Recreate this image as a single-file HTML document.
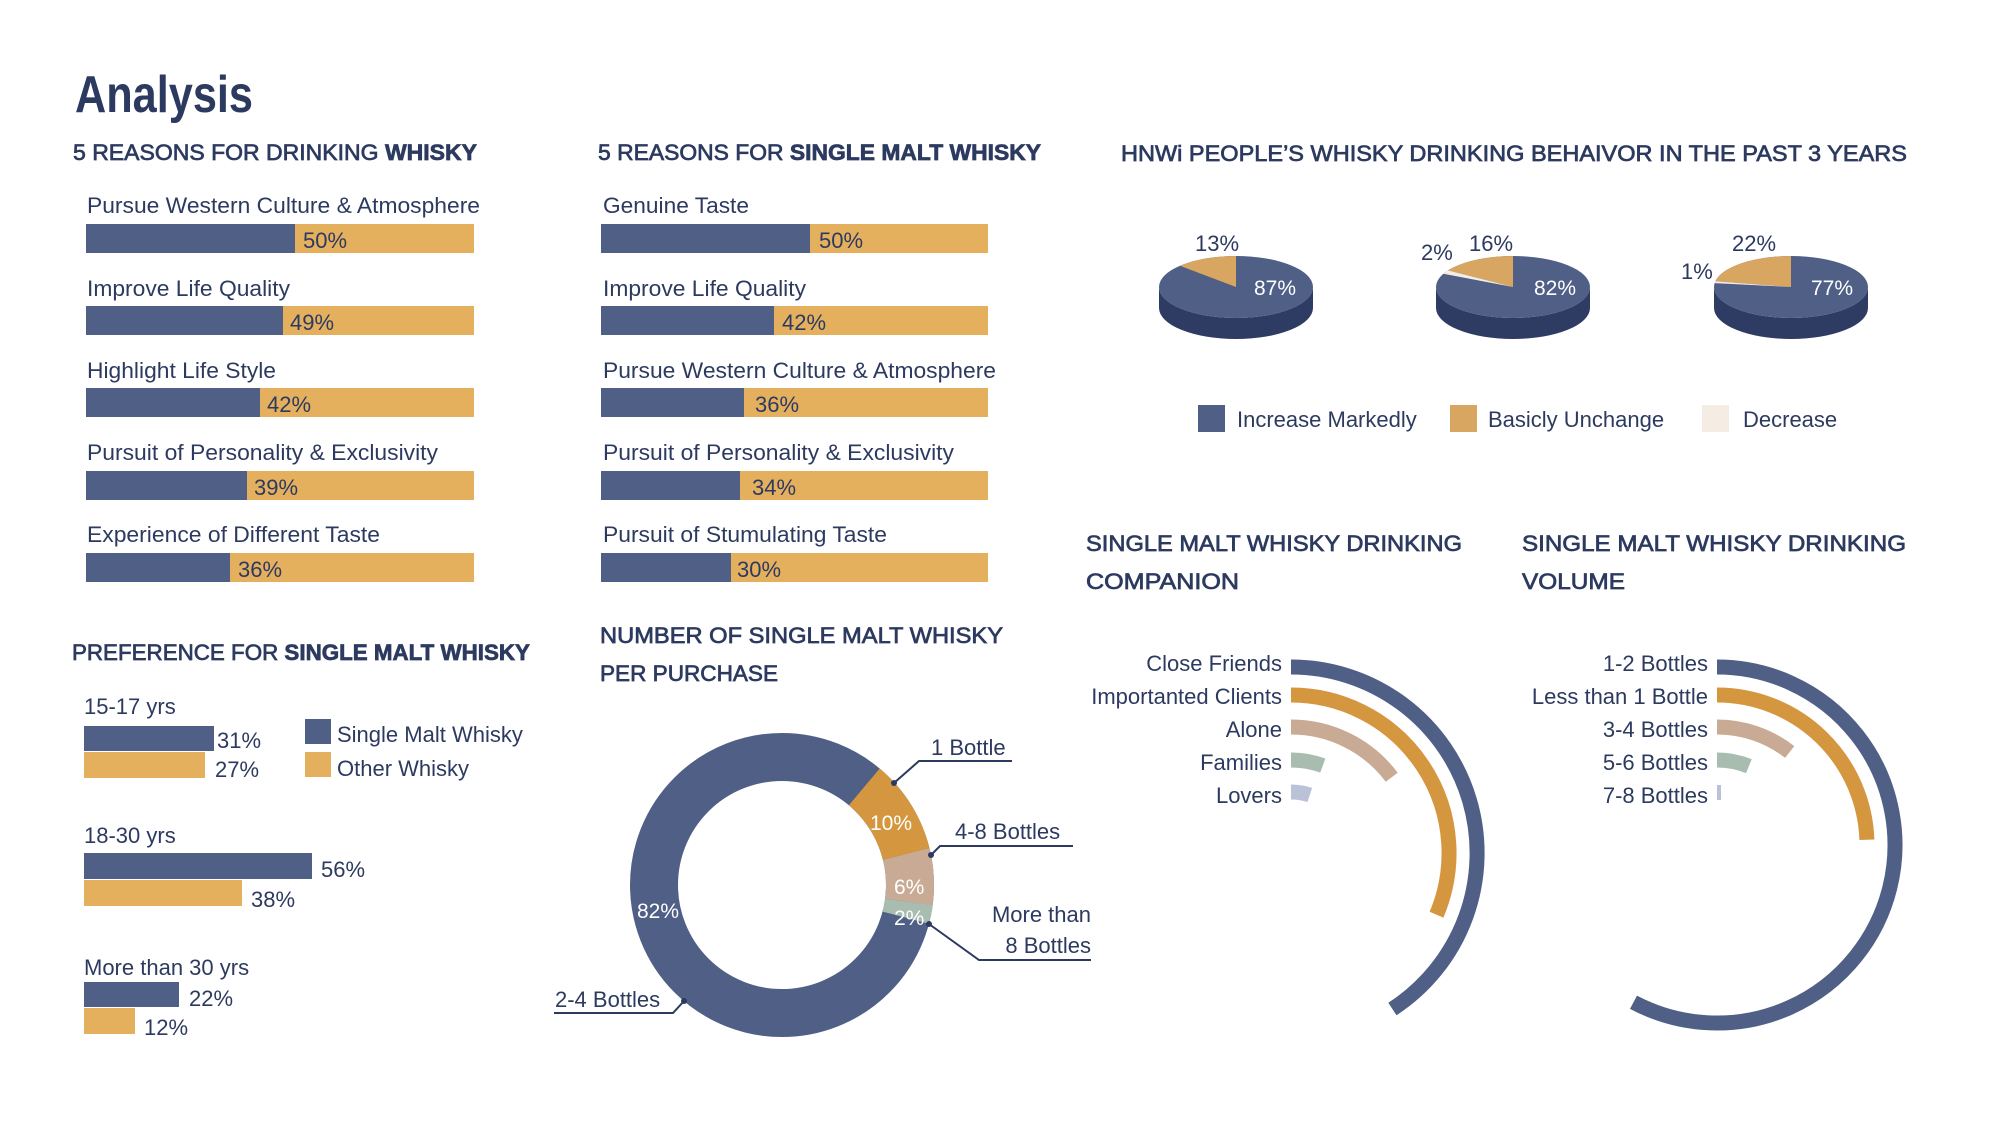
<!DOCTYPE html>
<html><head><meta charset="utf-8"><style>
html,body{margin:0;padding:0;background:#fff;}
svg{display:block;font-family:"Liberation Sans",sans-serif;}
.t{fill:#2d3a60;font-size:22px;}
.h{fill:#2d3a60;font-size:22px;stroke:#2d3a60;stroke-width:0.7px;}
.w{fill:#fff;font-size:21px;}
</style></head><body>
<svg width="2000" height="1125" viewBox="0 0 2000 1125" xmlns="http://www.w3.org/2000/svg">
<rect width="2000" height="1125" fill="#fff"/>
<text x="75" y="112" font-size="52" font-weight="bold" fill="#2d3a60" textLength="178" lengthAdjust="spacingAndGlyphs">Analysis</text>

<!-- headings -->
<text class="h" x="73" y="160" textLength="404" lengthAdjust="spacingAndGlyphs">5 REASONS FOR DRINKING <tspan font-weight="bold">WHISKY</tspan></text>
<text class="h" x="598" y="160" textLength="443" lengthAdjust="spacingAndGlyphs">5 REASONS FOR <tspan font-weight="bold">SINGLE MALT WHISKY</tspan></text>
<text class="h" x="1121" y="161" textLength="786" lengthAdjust="spacingAndGlyphs">HNWi PEOPLE’S WHISKY DRINKING BEHAIVOR IN THE PAST 3 YEARS</text>

<!-- chart 1 -->
<g>
<text class="t" x="87" y="213" textLength="393" lengthAdjust="spacingAndGlyphs">Pursue Western Culture &amp; Atmosphere</text>
<rect x="86" y="224" width="388" height="29" fill="#e5b05e"/><rect x="86" y="224" width="209" height="29" fill="#4f5f86"/>
<text class="t" x="303" y="248">50%</text>
<text class="t" x="87" y="296" textLength="203" lengthAdjust="spacingAndGlyphs">Improve Life Quality</text>
<rect x="86" y="306" width="388" height="29" fill="#e5b05e"/><rect x="86" y="306" width="197" height="29" fill="#4f5f86"/>
<text class="t" x="290" y="330">49%</text>
<text class="t" x="87" y="378" textLength="189" lengthAdjust="spacingAndGlyphs">Highlight Life Style</text>
<rect x="86" y="388" width="388" height="29" fill="#e5b05e"/><rect x="86" y="388" width="174" height="29" fill="#4f5f86"/>
<text class="t" x="267" y="412">42%</text>
<text class="t" x="87" y="460" textLength="351" lengthAdjust="spacingAndGlyphs">Pursuit of Personality &amp; Exclusivity</text>
<rect x="86" y="471" width="388" height="29" fill="#e5b05e"/><rect x="86" y="471" width="161" height="29" fill="#4f5f86"/>
<text class="t" x="254" y="495">39%</text>
<text class="t" x="87" y="542" textLength="293" lengthAdjust="spacingAndGlyphs">Experience of Different Taste</text>
<rect x="86" y="553" width="388" height="29" fill="#e5b05e"/><rect x="86" y="553" width="144" height="29" fill="#4f5f86"/>
<text class="t" x="238" y="577">36%</text>
</g>

<!-- chart 2 -->
<g>
<text class="t" x="603" y="213" textLength="146" lengthAdjust="spacingAndGlyphs">Genuine Taste</text>
<rect x="601" y="224" width="387" height="29" fill="#e5b05e"/><rect x="601" y="224" width="209" height="29" fill="#4f5f86"/>
<text class="t" x="819" y="248">50%</text>
<text class="t" x="603" y="296" textLength="203" lengthAdjust="spacingAndGlyphs">Improve Life Quality</text>
<rect x="601" y="306" width="387" height="29" fill="#e5b05e"/><rect x="601" y="306" width="173" height="29" fill="#4f5f86"/>
<text class="t" x="782" y="330">42%</text>
<text class="t" x="603" y="378" textLength="393" lengthAdjust="spacingAndGlyphs">Pursue Western Culture &amp; Atmosphere</text>
<rect x="601" y="388" width="387" height="29" fill="#e5b05e"/><rect x="601" y="388" width="143" height="29" fill="#4f5f86"/>
<text class="t" x="755" y="412">36%</text>
<text class="t" x="603" y="460" textLength="351" lengthAdjust="spacingAndGlyphs">Pursuit of Personality &amp; Exclusivity</text>
<rect x="601" y="471" width="387" height="29" fill="#e5b05e"/><rect x="601" y="471" width="139" height="29" fill="#4f5f86"/>
<text class="t" x="752" y="495">34%</text>
<text class="t" x="603" y="542" textLength="284" lengthAdjust="spacingAndGlyphs">Pursuit of Stumulating Taste</text>
<rect x="601" y="553" width="387" height="29" fill="#e5b05e"/><rect x="601" y="553" width="130" height="29" fill="#4f5f86"/>
<text class="t" x="737" y="577">30%</text>
</g>

<!-- pies -->
<g>
<path d="M1159 287 A77 31 0 0 0 1313 287 L1313 308 A77 31 0 0 1 1159 308 Z" fill="#2e3b63"/>
<ellipse cx="1236" cy="287" rx="77" ry="31" fill="#4f5f86"/>
<path d="M1236 287 L1236 256 A77 31 0 0 0 1179.9 265.8 Z" fill="#d8a660"/>
<text class="t" x="1195" y="251">13%</text><text class="w" x="1254" y="295">87%</text>

<path d="M1436 287 A77 31 0 0 0 1590 287 L1590 308 A77 31 0 0 1 1436 308 Z" fill="#2e3b63"/>
<ellipse cx="1513" cy="287" rx="77" ry="31" fill="#4f5f86"/>
<path d="M1513 287 L1513 256 A77 31 0 0 0 1448 270.4 Z" fill="#d8a660"/>
<path d="M1513 287 L1448 270.4 A77 31 0 0 0 1443.3 273.8 Z" fill="#f5ede3"/>
<text class="t" x="1421" y="260">2%</text><text class="t" x="1469" y="251">16%</text><text class="w" x="1534" y="295">82%</text>

<path d="M1714 287 A77 31 0 0 0 1868 287 L1868 308 A77 31 0 0 1 1714 308 Z" fill="#2e3b63"/>
<ellipse cx="1791" cy="287" rx="77" ry="31" fill="#4f5f86"/>
<path d="M1791 287 L1791 256 A77 31 0 0 0 1715.4 281.2 Z" fill="#d8a660"/>
<path d="M1791 287 L1715.4 281.2 A77 31 0 0 0 1714.6 283.1 Z" fill="#f5ede3"/>
<text class="t" x="1681" y="279">1%</text><text class="t" x="1732" y="251">22%</text><text class="w" x="1811" y="295">77%</text>

<rect x="1198" y="405" width="27" height="27" fill="#4f5f86"/>
<text class="t" x="1237" y="427">Increase Markedly</text>
<rect x="1450" y="405" width="27" height="27" fill="#d8a660"/>
<text class="t" x="1488" y="427">Basicly Unchange</text>
<rect x="1702" y="405" width="27" height="27" fill="#f5ede3"/>
<text class="t" x="1743" y="427">Decrease</text>
</g>

<!-- preference -->
<g>
<text class="h" x="72" y="660" textLength="458" lengthAdjust="spacingAndGlyphs">PREFERENCE FOR <tspan font-weight="bold">SINGLE MALT WHISKY</tspan></text>
<text class="t" x="84" y="714">15-17 yrs</text>
<rect x="84" y="726" width="130" height="25" fill="#4f5f86"/><rect x="84" y="752" width="121" height="26" fill="#e5b05e"/>
<text class="t" x="217" y="748">31%</text><text class="t" x="215" y="777">27%</text>
<rect x="305" y="719" width="26" height="25" fill="#4f5f86"/><rect x="305" y="752" width="26" height="25" fill="#e5b05e"/>
<text class="t" x="337" y="742">Single Malt Whisky</text><text class="t" x="337" y="776">Other Whisky</text>
<text class="t" x="84" y="843">18-30 yrs</text>
<rect x="84" y="853" width="228" height="26" fill="#4f5f86"/><rect x="84" y="880" width="158" height="26" fill="#e5b05e"/>
<text class="t" x="321" y="877">56%</text><text class="t" x="251" y="907">38%</text>
<text class="t" x="84" y="975">More than 30 yrs</text>
<rect x="84" y="982" width="95" height="25" fill="#4f5f86"/><rect x="84" y="1008" width="51" height="26" fill="#e5b05e"/>
<text class="t" x="189" y="1006">22%</text><text class="t" x="144" y="1035">12%</text>
</g>

<!-- donut -->
<g>
<text class="h" x="600" y="643" textLength="403" lengthAdjust="spacingAndGlyphs">NUMBER OF SINGLE MALT WHISKY</text>
<text class="h" x="600" y="681" textLength="178" lengthAdjust="spacingAndGlyphs">PER PURCHASE</text>
<circle cx="782" cy="885" r="128" fill="none" stroke="#4f5f86" stroke-width="48"/>
<path d="M864.3 786.9 A128 128 0 0 1 906.2 854" fill="none" stroke="#d4973f" stroke-width="48"/>
<path d="M906.2 854 A128 128 0 0 1 908.9 901.9" fill="none" stroke="#c9ab95" stroke-width="48"/>
<path d="M908.9 901.9 A128 128 0 0 1 905.8 917.7" fill="none" stroke="#a9bcb0" stroke-width="48"/>
<text class="w" x="870" y="830">10%</text>
<text class="w" x="894" y="894">6%</text>
<text class="w" x="894" y="925">2%</text>
<text class="w" x="637" y="918">82%</text>
<g stroke="#2d3a60" stroke-width="2" fill="none">
<path d="M894 783 L919 761 L1012 761"/>
<path d="M931 855 L940 846 L1073 846"/>
<path d="M929 924 L979 960 L1091 960"/>
<path d="M684 1001 L673 1013 L554 1013"/>
</g>
<g fill="#2d3a60"><circle cx="894" cy="783" r="3"/><circle cx="931" cy="855" r="3"/><circle cx="929" cy="924" r="3"/><circle cx="684" cy="1001" r="3"/></g>
<text class="t" x="931" y="755" font-size="24">1 Bottle</text>
<text class="t" x="955" y="839" font-size="24">4-8 Bottles</text>
<text class="t" x="1091" y="922" font-size="24" text-anchor="end">More than</text>
<text class="t" x="1091" y="953" font-size="24" text-anchor="end">8 Bottles</text>
<text class="t" x="555" y="1007" font-size="24">2-4 Bottles</text>
</g>

<!-- companion -->
<g>
<text class="h" x="1086" y="551" textLength="376" lengthAdjust="spacingAndGlyphs">SINGLE MALT WHISKY DRINKING</text>
<text class="h" x="1086" y="589" textLength="153" lengthAdjust="spacingAndGlyphs">COMPANION</text>
<g text-anchor="end">
<text class="t" x="1282" y="671">Close Friends</text>
<text class="t" x="1282" y="704">Importanted Clients</text>
<text class="t" x="1282" y="737">Alone</text>
<text class="t" x="1282" y="770">Families</text>
<text class="t" x="1282" y="803">Lovers</text>
</g>
<g fill="none" stroke-width="15">
<path d="M1291 667 A186 186 0 0 1 1392.4 1009" stroke="#4f5f86"/>
<path d="M1291 695 A158 158 0 0 1 1436.5 914.7" stroke="#d4973f"/>
<path d="M1291 727 A126 126 0 0 1 1391.7 777.2" stroke="#c9ab95"/>
<path d="M1291 760 A93 93 0 0 1 1322.8 765.6" stroke="#a9bcb0"/>
<path d="M1291 792 A61 61 0 0 1 1309.8 795" stroke="#bbc2d8"/>
</g>
</g>

<!-- volume -->
<g>
<text class="h" x="1522" y="551" textLength="384" lengthAdjust="spacingAndGlyphs">SINGLE MALT WHISKY  DRINKING</text>
<text class="h" x="1522" y="589" textLength="103" lengthAdjust="spacingAndGlyphs">VOLUME</text>
<g text-anchor="end">
<text class="t" x="1708" y="671">1-2 Bottles</text>
<text class="t" x="1708" y="704">Less than 1 Bottle</text>
<text class="t" x="1708" y="737">3-4 Bottles</text>
<text class="t" x="1708" y="770">5-6 Bottles</text>
<text class="t" x="1708" y="803">7-8 Bottles</text>
</g>
<g fill="none" stroke-width="15">
<path d="M1717 667 A178 178 0 1 1 1633.5 1002.2" stroke="#4f5f86"/>
<path d="M1717 695 A150 150 0 0 1 1866.9 839.8" stroke="#d4973f"/>
<path d="M1717 727 A118 118 0 0 1 1789.7 752" stroke="#c9ab95"/>
<path d="M1717 760 A85 85 0 0 1 1748.9 766.2" stroke="#a9bcb0"/>
</g>
<rect x="1717" y="785" width="4" height="15" fill="#bbc2d8"/>
</g>
</svg>
</body></html>
